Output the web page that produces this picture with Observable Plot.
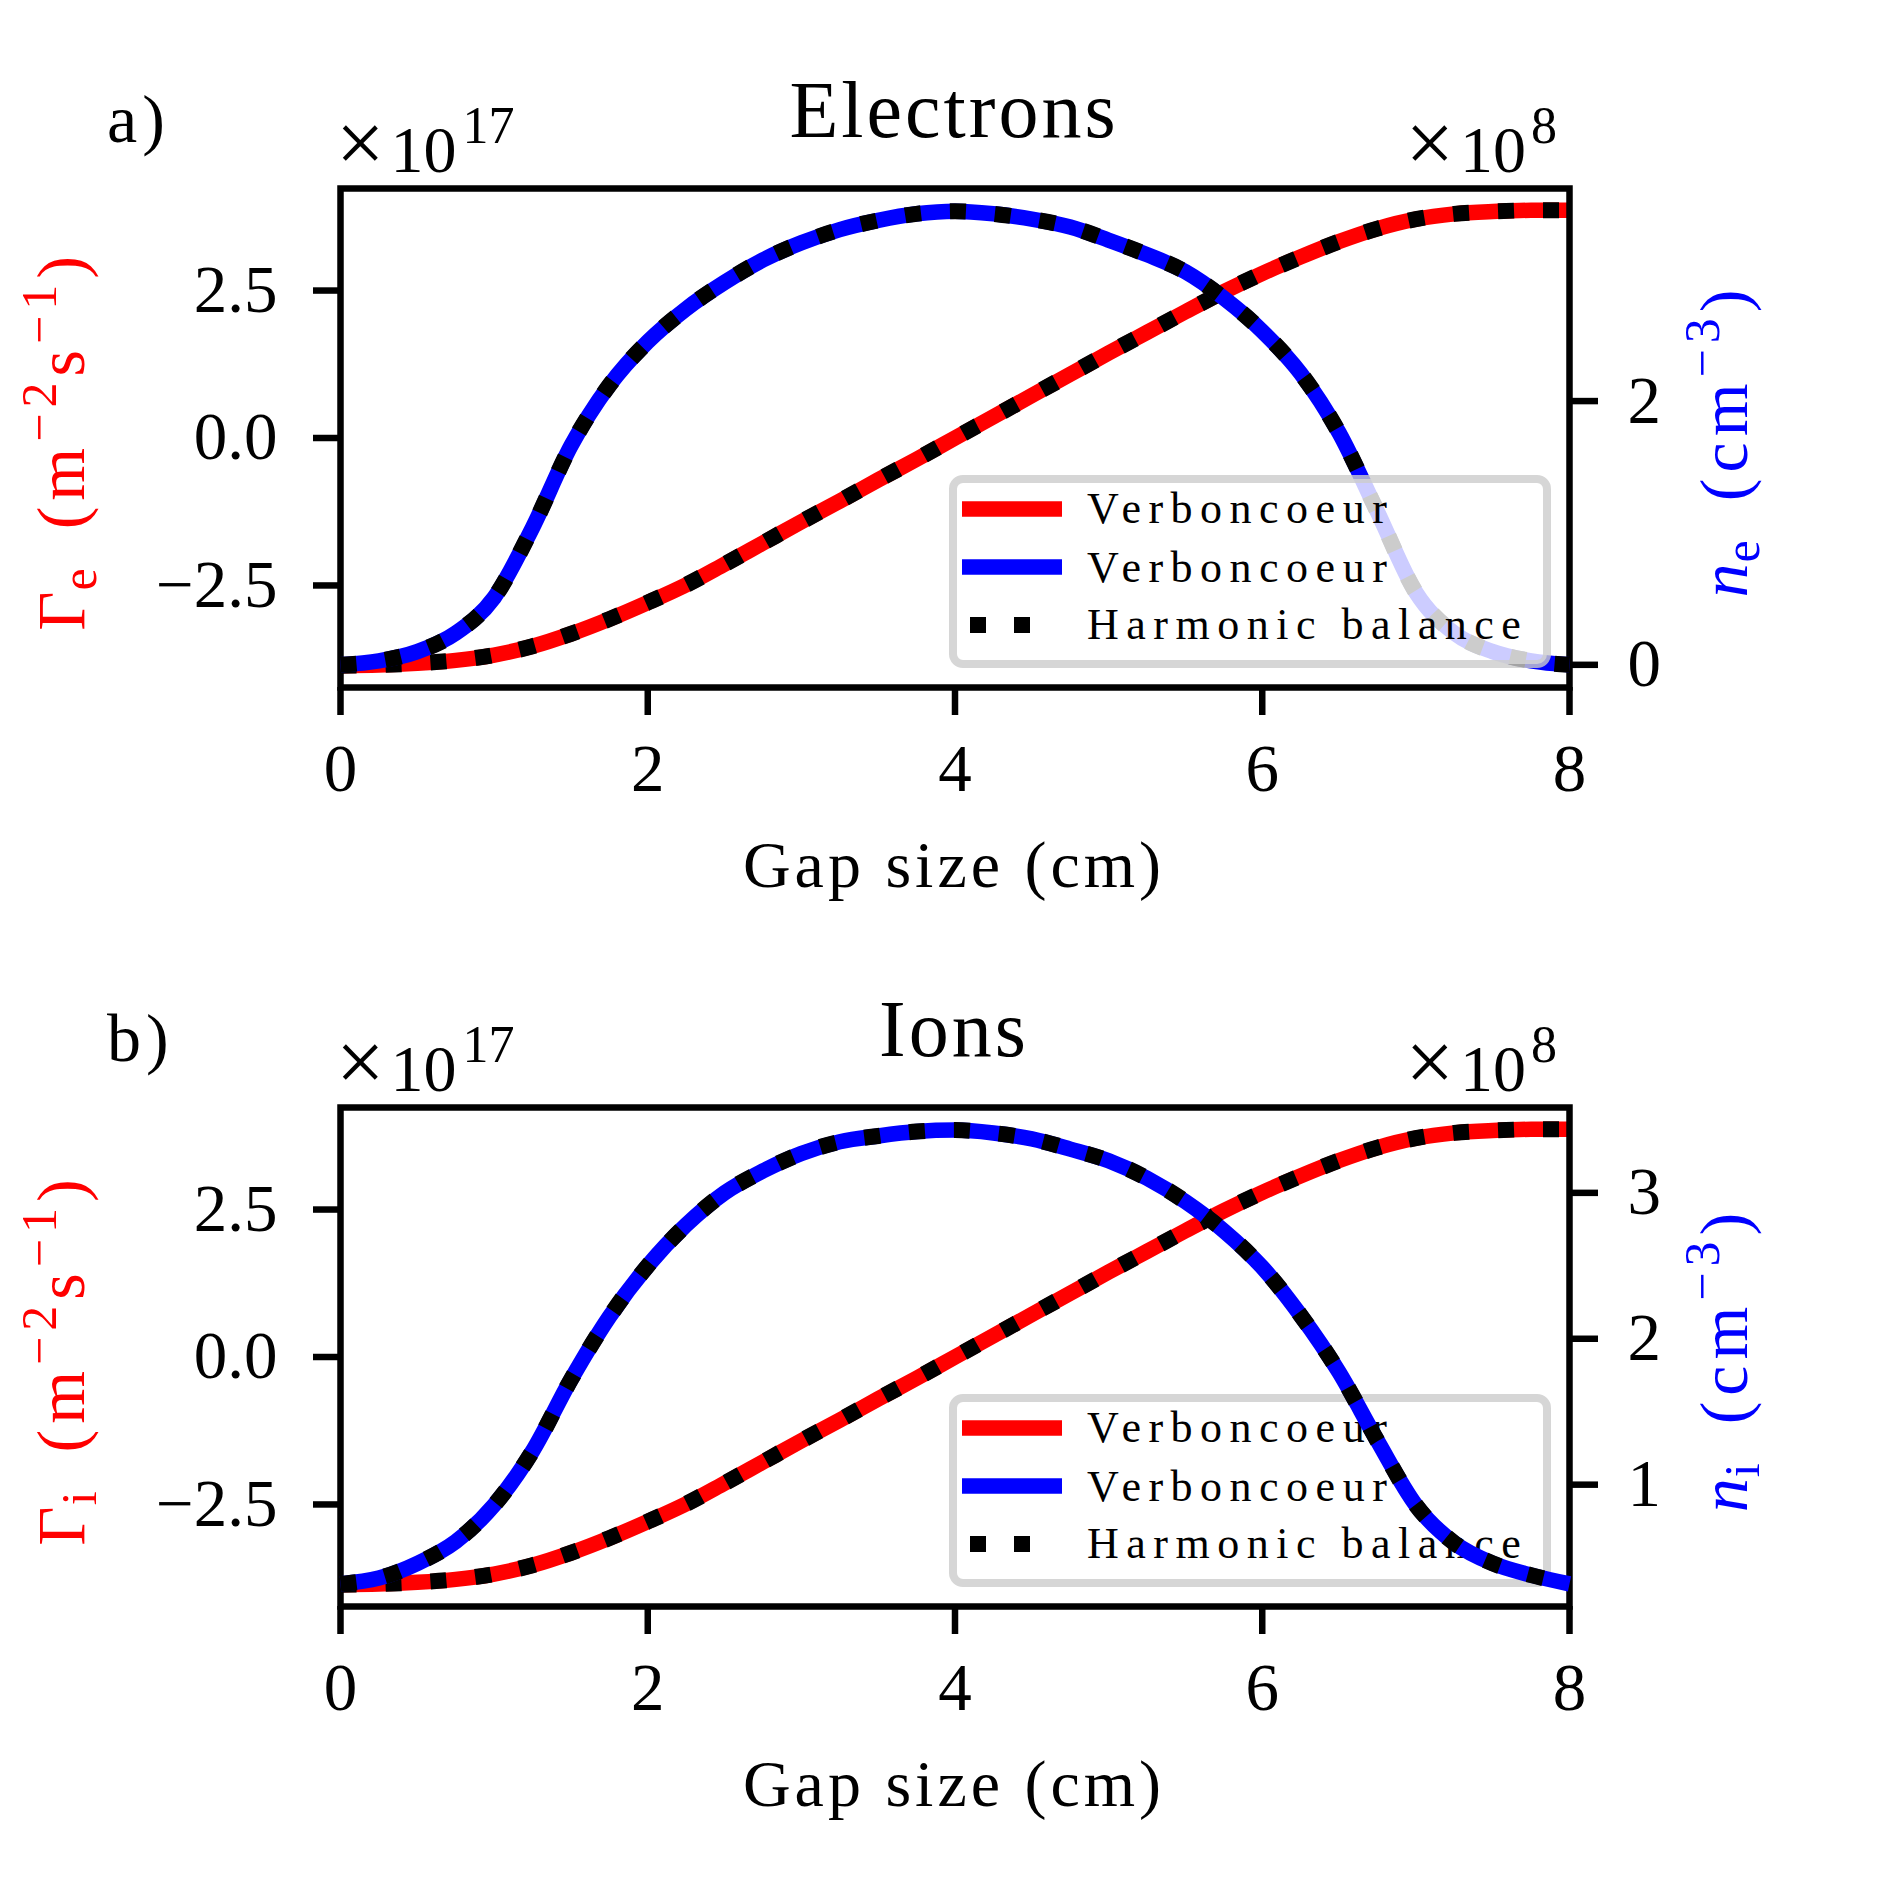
<!DOCTYPE html>
<html><head><meta charset="utf-8">
<script src="https://cdn.jsdelivr.net/npm/d3@7"></script>
<script src="https://cdn.jsdelivr.net/npm/@observablehq/plot@0.6"></script>
<style>
html,body{margin:0;padding:0;background:#fff;overflow:hidden;}
#fig{position:relative;width:1889px;height:1889px;background:#fff;}
#fig > svg{position:absolute;left:0;top:0;}
</style></head><body><div id="fig"></div>
<script>
// ---------- data ----------
const gapSize = [0, 0.25, 0.5, 0.75, 1, 1.25, 1.5, 1.75, 2, 2.25, 2.5, 2.75, 3, 3.25, 3.5, 3.75, 4, 4.25, 4.5, 4.75, 5, 5.25, 5.5, 5.75, 6, 6.25, 6.5, 6.75, 7, 7.25, 7.5, 7.75, 8];
// electron flux, x1e17 m^-2 s^-1
const gammaE = [-3.86, -3.85, -3.82, -3.77, -3.68, -3.53, -3.32, -3.07, -2.79, -2.49, -2.14, -1.78, -1.42, -1.07, -0.71, -0.36, 0.00, 0.36, 0.72, 1.08, 1.44, 1.79, 2.14, 2.48, 2.79, 3.07, 3.33, 3.55, 3.71, 3.80, 3.84, 3.86, 3.86];
// electron density, x1e8 cm^-3
const densityE = [0.00, 0.03, 0.10, 0.24, 0.51, 1.04, 1.66, 2.12, 2.45, 2.70, 2.90, 3.07, 3.20, 3.30, 3.37, 3.42, 3.44, 3.42, 3.38, 3.32, 3.22, 3.11, 2.98, 2.78, 2.53, 2.21, 1.76, 1.16, 0.55, 0.24, 0.10, 0.03, 0.00];
// ion flux, x1e17 m^-2 s^-1
const gammaI = [-3.86, -3.85, -3.82, -3.77, -3.68, -3.53, -3.32, -3.07, -2.79, -2.49, -2.14, -1.78, -1.42, -1.07, -0.71, -0.36, 0.00, 0.36, 0.72, 1.08, 1.44, 1.79, 2.14, 2.48, 2.79, 3.07, 3.33, 3.55, 3.71, 3.80, 3.84, 3.86, 3.86];
// ion density, x1e8 cm^-3
const densityI = [0.32, 0.36, 0.46, 0.61, 0.86, 1.23, 1.72, 2.15, 2.50, 2.78, 3.00, 3.15, 3.27, 3.35, 3.39, 3.42, 3.43, 3.41, 3.37, 3.30, 3.22, 3.10, 2.94, 2.74, 2.49, 2.16, 1.77, 1.30, 0.86, 0.60, 0.46, 0.38, 0.32];

const xTicks = [0, 2, 4, 6, 8];
const gammaTicks = [-2.5, 0, 2.5];
const densityETicks = [0, 2];
const densityITicks = [1, 2, 3];
const gammaDomain = [-4.23, 4.23];
const densityEDomain = [-0.172, 3.612];
const densityIDomain = [0.165, 3.585];
const legendLabels = ["Verboncoeur", "Verboncoeur", "Harmonic balance"];
const panelTags = ["a)", "b)"];
const panelTitles = ["Electrons", "Ions"];
const speciesSub = ["e", "i"];
const xLabel = "Gap size (cm)";

// ---------- layout ----------
const W = 1889, H = 1889;
const ML = 340, MR = 1889 - 1569;
const panelTop = [188, 1107];
const panelH = 499;
const FONT = "Liberation Serif";
const SPINE = 6.5;

const fig = document.getElementById("fig");

function baseOpts(p) {
  return {
    width: W, height: H,
    marginLeft: ML, marginRight: MR,
    marginTop: panelTop[p], marginBottom: H - panelTop[p] - panelH,
    style: {background: "transparent", fontFamily: FONT, fontSize: "66px", color: "black", overflow: "visible"}
  };
}

function leftPlot(p, gamma) {
  const rows = gapSize.map((x, i) => ({x, v: gamma[i]}));
  return Plot.plot({
    ...baseOpts(p),
    x: {domain: [0, 8]},
    y: {domain: gammaDomain},
    marks: [
      Plot.line(rows, {x: "x", y: "v", stroke: "red", strokeWidth: 15.5, strokeLinecap: "butt", strokeLinejoin: "round", curve: "monotone-x"}),
      Plot.line(rows, {x: "x", y: "v", stroke: "black", strokeWidth: 16, strokeDasharray: "16,29", strokeLinecap: "butt", strokeLinejoin: "round", curve: "monotone-x"}),
      Plot.frame({stroke: "black", strokeWidth: SPINE}),
      Plot.axisX({ticks: xTicks, tickFormat: "d", tickSize: 28, tickPadding: 28, strokeWidth: SPINE, fontSize: 67, label: null}),
      Plot.axisY({anchor: "left", ticks: gammaTicks, tickFormat: ".1f", tickSize: 27, tickPadding: 36, strokeWidth: SPINE, fontSize: 67, label: null})
    ]
  });
}

function rightPlot(p, dens, domain, ticks) {
  const rows = gapSize.map((x, i) => ({x, v: dens[i]}));
  return Plot.plot({
    ...baseOpts(p),
    x: {domain: [0, 8], axis: null},
    y: {domain},
    marks: [
      Plot.line(rows, {x: "x", y: "v", stroke: "blue", strokeWidth: 15.5, strokeLinecap: "butt", strokeLinejoin: "round", curve: "monotone-x"}),
      Plot.line(rows, {x: "x", y: "v", stroke: "black", strokeWidth: 16, strokeDasharray: "16,29", strokeLinecap: "butt", strokeLinejoin: "round", curve: "monotone-x"}),
      Plot.axisY({anchor: "right", ticks, tickFormat: "d", tickSize: 28, tickPadding: 30, strokeWidth: SPINE, fontSize: 67, label: null})
    ]
  });
}

function legendSVG(p) {
  const dy = panelTop[p] - panelTop[0];
  const ns = "http://www.w3.org/2000/svg";
  const svg = document.createElementNS(ns, "svg");
  svg.setAttribute("width", W); svg.setAttribute("height", H);
  const colors = ["red", "blue", "black"];
  const ly = [509, 567, 625].map(v => v + dy);
  const ty = [523, 582, 639].map(v => v + dy);
  let s = `<rect x="953" y="${479 + dy}" width="594" height="185" rx="10" fill="white" fill-opacity="0.8" stroke="#cccccc" stroke-opacity="0.8" stroke-width="8"/>`;
  legendLabels.forEach((lab, i) => {
    if (i < 2) s += `<line x1="962" x2="1062" y1="${ly[i]}" y2="${ly[i]}" stroke="${colors[i]}" stroke-width="15.5"/>`;
    else s += `<line x1="970" x2="1040" y1="${ly[i]}" y2="${ly[i]}" stroke="black" stroke-width="16" stroke-dasharray="16,28"/>`;
    s += `<text x="1087" y="${ty[i]}" font-family="${FONT}" font-size="44" letter-spacing="7.5" fill="black">${lab}</text>`;
  });
  svg.innerHTML = s;
  return svg;
}

function textSVG() {
  const ns = "http://www.w3.org/2000/svg";
  const svg = document.createElementNS(ns, "svg");
  svg.setAttribute("width", W); svg.setAttribute("height", H);
  let s = "";
  [0, 1].forEach(p => {
    const dy = panelTop[p] - panelTop[0];
    const cy = panelTop[p] + panelH / 2;
    const sub = speciesSub[p];
    s += `<g font-family="${FONT}" fill="black">`;
    s += `<text x="107" y="${142 + dy}" font-size="68" letter-spacing="5">${panelTags[p]}</text>`;
    s += `<text x="954" y="${137 + dy}" font-size="80" letter-spacing="3" text-anchor="middle">${panelTitles[p]}</text>`;
    s += `<text x="336" y="${172 + dy}" font-size="66"><tspan font-size="86">×</tspan><tspan dx="6">10</tspan><tspan dx="6" font-size="52" dy="-29">17</tspan></text>`;
    s += `<text x="1557" y="${172 + dy}" font-size="66" text-anchor="end"><tspan font-size="86">×</tspan><tspan dx="6">10</tspan><tspan dx="5" font-size="52" dy="-29">8</tspan></text>`;
    s += `<text x="954" y="${887 + dy}" font-size="66" letter-spacing="4" text-anchor="middle">${xLabel}</text>`;
    s += `<text transform="translate(84,${cy + 3}) rotate(-90)" font-size="68" letter-spacing="6" text-anchor="middle" fill="red"><tspan letter-spacing="1">Γ</tspan><tspan font-size="50" dy="12">${sub}</tspan><tspan dy="-12" dx="10"> (m</tspan><tspan font-size="50" dy="-28">−2</tspan><tspan dy="28">s</tspan><tspan font-size="50" dy="-28">−1</tspan><tspan dy="28">)</tspan></text>`;
    s += `<text transform="translate(1747,${cy + 3}) rotate(-90)" font-size="68" letter-spacing="6" text-anchor="middle" fill="blue"><tspan font-style="italic" letter-spacing="1">n</tspan><tspan font-size="50" dy="12">${sub}</tspan><tspan dy="-12" dx="10"> (cm</tspan><tspan font-size="50" dy="-28">−3</tspan><tspan dy="28">)</tspan></text>`;
    s += `</g>`;
  });
  svg.innerHTML = s;
  return svg;
}

fig.appendChild(leftPlot(0, gammaE));
fig.appendChild(rightPlot(0, densityE, densityEDomain, densityETicks));
fig.appendChild(leftPlot(1, gammaI));
fig.appendChild(legendSVG(1));
fig.appendChild(rightPlot(1, densityI, densityIDomain, densityITicks));
fig.appendChild(legendSVG(0));
fig.appendChild(textSVG());
</script></body></html>
